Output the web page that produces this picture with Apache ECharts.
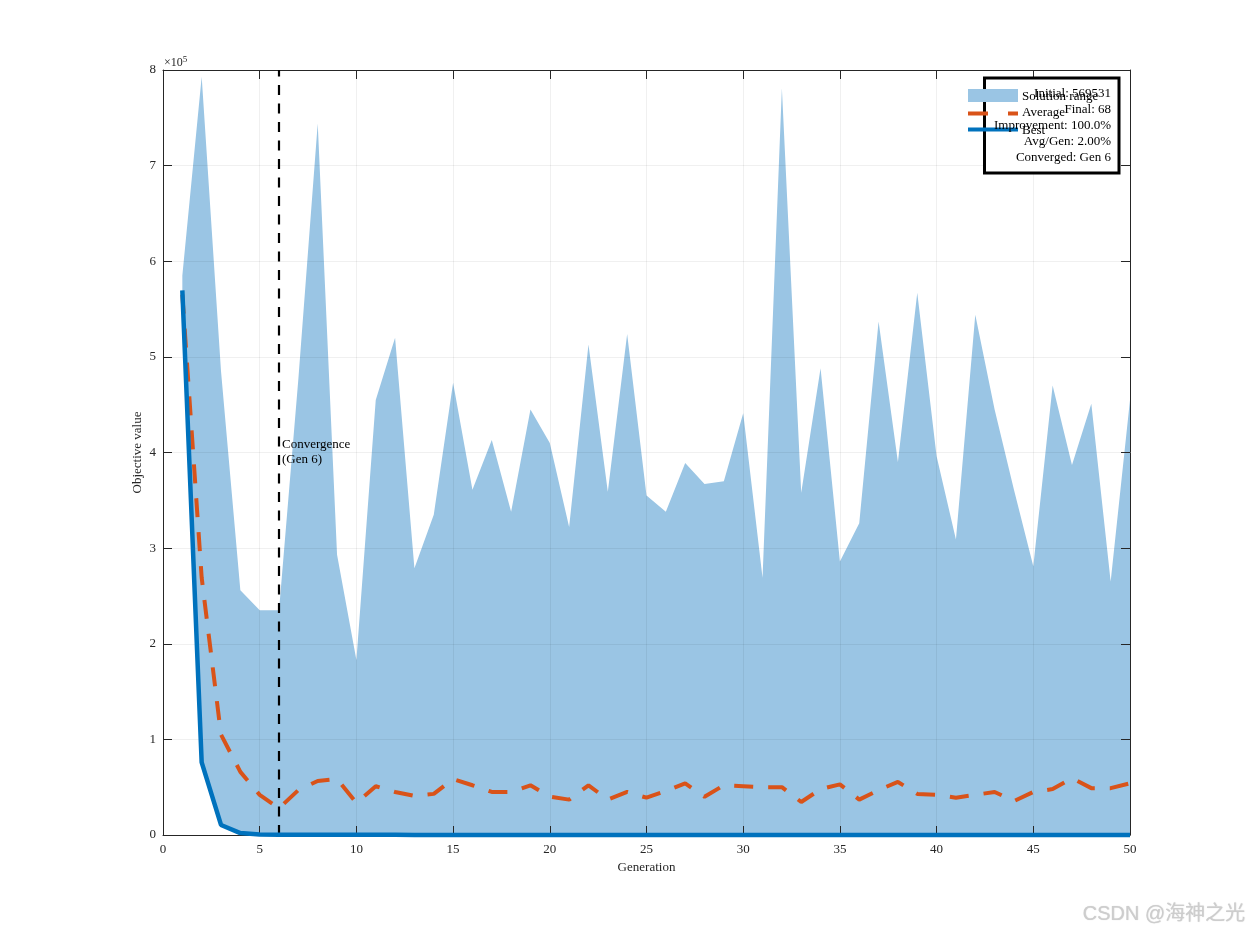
<!DOCTYPE html>
<html><head><meta charset="utf-8">
<script src="https://cdn.jsdelivr.net/npm/echarts@6/dist/echarts.min.js"></script>
<style>html,body{margin:0;padding:0;background:#fff}#c{width:1250px;height:938px}</style>
</head><body><div id="c"></div>
<script>
const generations = [1,2,3,4,5,6,7,8,9,10,11,12,13,14,15,16,17,18,19,20,21,22,23,24,25,26,27,28,29,30,31,32,33,34,35,36,37,38,39,40,41,42,43,44,45,46,47,48,49,50];
const rangeMax = [585000,793000,485000,256000,235000,235000,477000,744000,293000,183000,
  455000,520000,279000,335000,473000,361000,413000,338000,445000,410000,
  322000,513000,359000,524000,355000,338000,389000,367000,370000,441000,
  269000,781000,358000,488000,286000,326000,537000,390000,567000,396000,
  309000,544000,445000,361000,281000,470000,387000,451000,265000,455000];
const averageValues = [565000,269000,105000,66000,42000,28000,47000,56500,58500,33500,
  51000,45000,41000,43000,58500,52000,45000,45000,52000,40000,
  37000,52000,37000,45000,39000,46000,54000,40000,52000,51000,
  50000,50000,34500,48000,53000,37000,47000,55500,43000,42000,
  39000,42000,45000,35500,45000,48000,59500,49000,49000,54000];
const bestValues = [569531,76000,10500,2000,600,300,250,200,180,160,
  150,140,130,120,115,110,105,100,98,96,
  94,92,90,88,86,85,84,83,82,81,
  80,79,78,77,76,75,74,74,73,73,
  72,72,71,71,70,70,69,69,68,68];
const convergenceGen = 6;
const legendNames = ['Solution range','Average','Best'];
const statsLines = ['Initial: 569531','Final: 68','Improvement: 100.0%','Avg/Gen: 2.00%','Converged: Gen 6'];

const bandColor = 'rgb(154,197,228)';
const avgColor = '#D95319';
const bestColor = '#0072BD';
const axisColor = '#262626';
const serif = '"Liberation Serif","Times New Roman",serif';

const chart = echarts.init(document.getElementById('c'), null, {renderer:'canvas'});

const pairs = (ys) => generations.map((g,i)=>[g, ys[i]]);

const axisCommon = {
  type:'value', z:3,
  axisLine:{show:true, onZero:false, lineStyle:{color:axisColor, width:1}},
  axisTick:{show:true, inside:true, length:9, lineStyle:{color:axisColor, width:1}},
};

const option = {
  animation:false,
  backgroundColor:'#fff',
  grid:{left:163, right:120, top:70, bottom:103, containLabel:false},
  xAxis:[
    Object.assign({}, axisCommon, {
      position:'bottom', min:0, max:50, interval:5,
      name:'Generation', nameLocation:'middle', nameGap:26, nameMoveOverlap:false,
      nameTextStyle:{color:axisColor, fontFamily:serif, fontSize:13},
      axisLabel:{color:axisColor, fontFamily:serif, fontSize:13, margin:8},
      splitLine:{show:true, lineStyle:{color:'rgba(0,0,0,0.06)', width:1}}
    }),
    Object.assign({}, axisCommon, {
      position:'top', min:0, max:50, interval:5,
      axisLabel:{show:false}, splitLine:{show:false}
    })
  ],
  yAxis:[
    Object.assign({}, axisCommon, {
      position:'left', min:0, max:800000, interval:100000,
      name:'Objective value', nameLocation:'middle', nameGap:19, nameMoveOverlap:false,
      nameTextStyle:{color:axisColor, fontFamily:serif, fontSize:13},
      axisLabel:{color:axisColor, fontFamily:serif, fontSize:13, margin:7,
        formatter:(v)=>String(Math.round(v/100000))},
      splitLine:{show:true, lineStyle:{color:'rgba(0,0,0,0.06)', width:1}}
    }),
    Object.assign({}, axisCommon, {
      position:'right', min:0, max:800000, interval:100000,
      axisLabel:{show:false}, splitLine:{show:false}
    })
  ],
  series:[
    {
      type:'custom', name:legendNames[0], z:2, silent:true, clip:true,
      xAxisIndex:0, yAxisIndex:0,
      data:[[generations[0], rangeMax[0]]],
      renderItem:(params, api)=>{
        const pts = [];
        for (let i=0;i<generations.length;i++) pts.push(api.coord([generations[i], rangeMax[i]]));
        for (let i=generations.length-1;i>=0;i--) pts.push(api.coord([generations[i], bestValues[i]]));
        return {type:'polygon', shape:{points:pts}, style:{fill:bandColor, stroke:null}};
      }
    },
    {
      type:'line', name:legendNames[1], z:10, silent:true,
      data:pairs(averageValues), showSymbol:false, symbol:'none',
      lineStyle:{color:avgColor, width:4, type:[19,15], cap:'butt'},
      markLine:{
        silent:true, symbol:['none','none'], label:{show:false},
        lineStyle:{color:'#000', width:2.2, type:[10,8.5]},
        emphasis:{disabled:true},
        data:[{xAxis:convergenceGen}]
      }
    },
    {
      type:'line', name:legendNames[2], z:11, silent:true, clip:false,
      data:pairs(bestValues), showSymbol:false, symbol:'none',
      lineStyle:{color:bestColor, width:4.5}
    },
    {
      type:'custom', name:'conv-label', z:12, silent:true,
      data:[[convergenceGen, 400000]],
      renderItem:(params, api)=>{
        const p = api.coord([api.value(0), api.value(1)]);
        return {type:'text', x:p[0]+3, y:p[1],
          style:{text:'Convergence\n(Gen ' + convergenceGen + ')', fill:'#000',
            font:'13px ' + serif, align:'left', verticalAlign:'middle', lineHeight:15}};
      }
    }
  ],
  graphic:[
    {type:'text', left:164, top:55, z:100,
      style:{text:'{a|×10}{b|5}', rich:{a:{fontFamily:serif, fontSize:12, fill:axisColor},
        b:{fontFamily:serif, fontSize:9, fill:axisColor, verticalAlign:'top', padding:[0,0,6,0]}}}},
    {type:'rect', z:100, shape:{x:984.5, y:78, width:134.5, height:95},
      style:{fill:'#fff', stroke:'#000', lineWidth:3}},
    {type:'rect', z:101, shape:{x:968, y:89, width:50, height:13}, style:{fill:bandColor}},
    {type:'line', z:101, shape:{x1:968, y1:113.5, x2:1018, y2:113.5},
      style:{stroke:avgColor, lineWidth:4, lineDash:[20,20]}},
    {type:'line', z:101, shape:{x1:968, y1:129.5, x2:1018, y2:129.5},
      style:{stroke:bestColor, lineWidth:4}},
    ...legendNames.map((t,i)=>({type:'text', z:102, x:1022, y:[96.5,113,130.5][i],
      style:{text:t, font:'13px ' + serif, fill:'#000', verticalAlign:'middle', align:'left'}})),
    ...statsLines.map((t,i)=>({type:'text', z:102, x:1111, y:94 + i*16,
      style:{text:t, font:'13px ' + serif, fill:'#000', verticalAlign:'middle', align:'right'}})),
    {type:'text', z:103, x:1245, y:914,
      style:{text:'CSDN @海神之光', font:'20px "Liberation Sans","Noto Sans CJK SC",sans-serif',
        fill:'#cdcdcd', align:'right', verticalAlign:'middle',
        textShadowColor:'rgba(0,0,0,0.18)', textShadowBlur:1, textShadowOffsetX:0.5, textShadowOffsetY:0.5}}
  ]
};
chart.setOption(option);
</script>
</body></html>
